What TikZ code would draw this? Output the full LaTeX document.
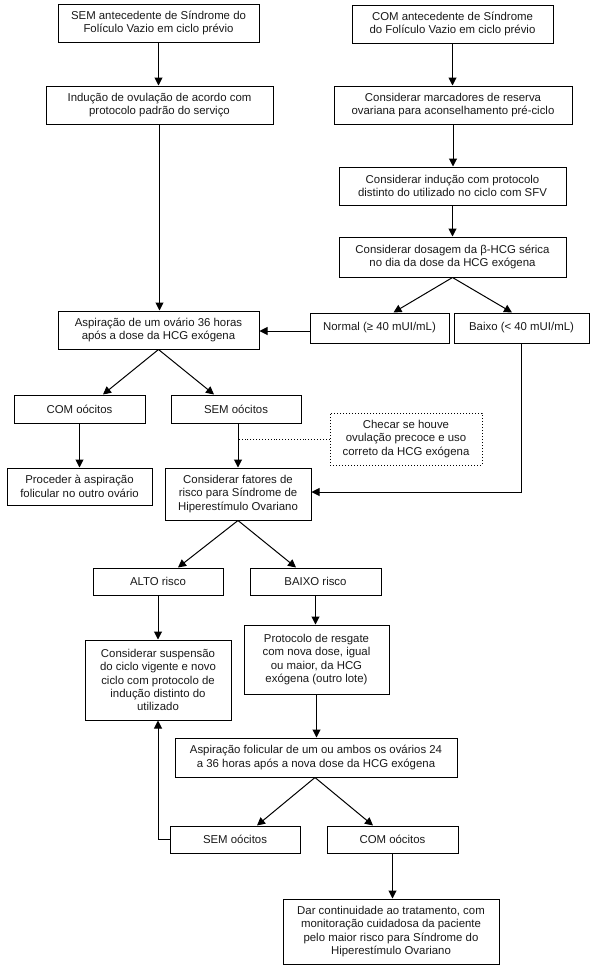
\documentclass[tikz,border=0pt]{standalone}
\usepackage{fontspec}
\setmainfont{Liberation Sans}
\usetikzlibrary{arrows.meta,calc}
\tikzset{
  bx/.style={draw=black, line width=1pt, rectangle, align=center, inner sep=0pt,
    font=\fontsize{11.4}{13.3}\selectfont, text=black!90},
  dbx/.style={bx, dotted},
  arr/.style={draw=black, line width=1pt, -{Triangle[length=8pt,width=8pt]}},
  ln/.style={draw=black, line width=1pt},
  dln/.style={draw=black, line width=0.9pt, dotted}
}
\newcommand{\bxat}[6]{\node[#1, minimum width=#4pt, minimum height=#5pt] (#2) at (#3) {#6};}
\begin{document}
\begin{tikzpicture}[x=1pt,y=-1pt]
\useasboundingbox[fill=white] (0,0) rectangle (598,969);
\bxat{bx}{A}{158.5,23}{201}{38}{SEM antecedente de Síndrome do\\Folículo Vazio em ciclo prévio}
\bxat{bx}{B}{452.5,24}{201}{38}{COM antecedente de Síndrome\\do Folículo Vazio em ciclo prévio}
\bxat{bx}{C}{159.5,105}{227}{38}{Indução de ovulação de acordo com\\protocolo padrão do serviço}
\bxat{bx}{D}{453,105}{238}{38}{Considerar marcadores de reserva\\ovariana para aconselhamento pré-ciclo}
\bxat{bx}{E}{452.5,186}{227}{38}{Considerar indução com protocolo\\distinto do utilizado no ciclo com SFV}
\bxat{bx}{F}{452.5,257}{227}{40}{Considerar dosagem da β-HCG sérica\\no dia da dose da HCG exógena}
\bxat{bx}{G}{158.5,330}{201}{38}{Aspiração de um ovário 36 horas\\após a dose da HCG exógena}
\bxat{bx}{H}{379.5,328}{139}{30}{Normal (≥ 40 mUI/mL)}
\bxat{bx}{I}{521.5,328}{135}{30}{Baixo (< 40 mUI/mL)}
\bxat{bx}{J}{79.5,409}{131}{28}{COM oócitos}
\bxat{bx}{K}{236,409}{130}{28}{SEM oócitos}
\bxat{bx}{L}{79.5,486.5}{145}{37}{Proceder à aspiração\\folicular no outro ovário}
\bxat{bx}{M}{238,494}{146}{52}{Considerar fatores de\\risco para Síndrome de\\Hiperestímulo Ovariano}
\bxat{dbx}{N}{406,439}{152}{52}{Checar se houve\\ovulação precoce e uso\\correto da HCG exógena}
\bxat{bx}{O}{158,581.5}{130}{27}{ALTO risco}
\bxat{bx}{P}{315.5,581.5}{131}{27}{BAIXO risco}
\bxat{bx}{Q}{158,680}{146}{80}{Considerar suspensão\\do ciclo vigente e novo\\ciclo com protocolo de\\indução distinto do\\utilizado}
\bxat{bx}{R}{316.5,659.5}{145}{69}{Protocolo de resgate\\com nova dose, igual\\ou maior, da HCG\\exógena (outro lote)}
\bxat{bx}{S}{316,757.5}{282}{39}{Aspiração folicular de um ou ambos os ovários 24\\a 36 horas após a nova dose da HCG exógena}
\bxat{bx}{T}{235,839.5}{130}{27}{SEM oócitos}
\bxat{bx}{U}{392.5,839.5}{131}{27}{COM oócitos}
\bxat{bx}{V}{391,931.5}{216}{65}{Dar continuidade ao tratamento, com\\monitoração cuidadosa da paciente\\pelo maior risco para Síndrome do\\Hiperestímulo Ovariano}
% connectors
\draw[arr] (A.south) -- (A.south|-C.north);
\draw[arr] (B.south) -- (B.south|-D.north);
\draw[arr] (D.south) -- (D.south|-E.north);
\draw[arr] (E.south) -- (E.south|-F.north);
\draw[arr] (C.south) -- (C.south|-G.north);
\draw[arr] (F.south) -- ([xshift=14pt]H.north);
\draw[arr] (F.south) -- ([xshift=-9.5pt]I.north);
\draw[arr] ([yshift=-3pt]H.west) -- ([yshift=-3pt]H.west-|G.east);
\draw[arr] (G.south) -- ([xshift=23.5pt]J.north);
\draw[arr] (G.south) -- ([xshift=-22pt]K.north);
\draw[arr] (J.south) -- (J.south|-L.north);
\draw[arr] (M.north|-K.south) -- (M.north);
\draw[dln] (N.west) -- (N.west-|M.north);
\draw[arr] (I.south) |- ([yshift=2pt]M.east);
\draw[arr] (M.south) -- ([xshift=20pt]O.north);
\draw[arr] (M.south) -- ([xshift=-19.5pt]P.north);
\draw[arr] (O.south) -- (O.south|-Q.north);
\draw[arr] (P.south) -- (P.south|-R.north);
\draw[arr] (R.south) -- (R.south|-S.north);
\draw[arr] ([xshift=-1pt]S.south) -- ([xshift=22pt]T.north);
\draw[arr] ([xshift=-1pt]S.south) -- ([xshift=-19.5pt]U.north);
\draw[arr] (T.west) -| (Q.south);
\draw[arr] (U.south) -- (U.south|-V.north);
\end{tikzpicture}
\end{document}
